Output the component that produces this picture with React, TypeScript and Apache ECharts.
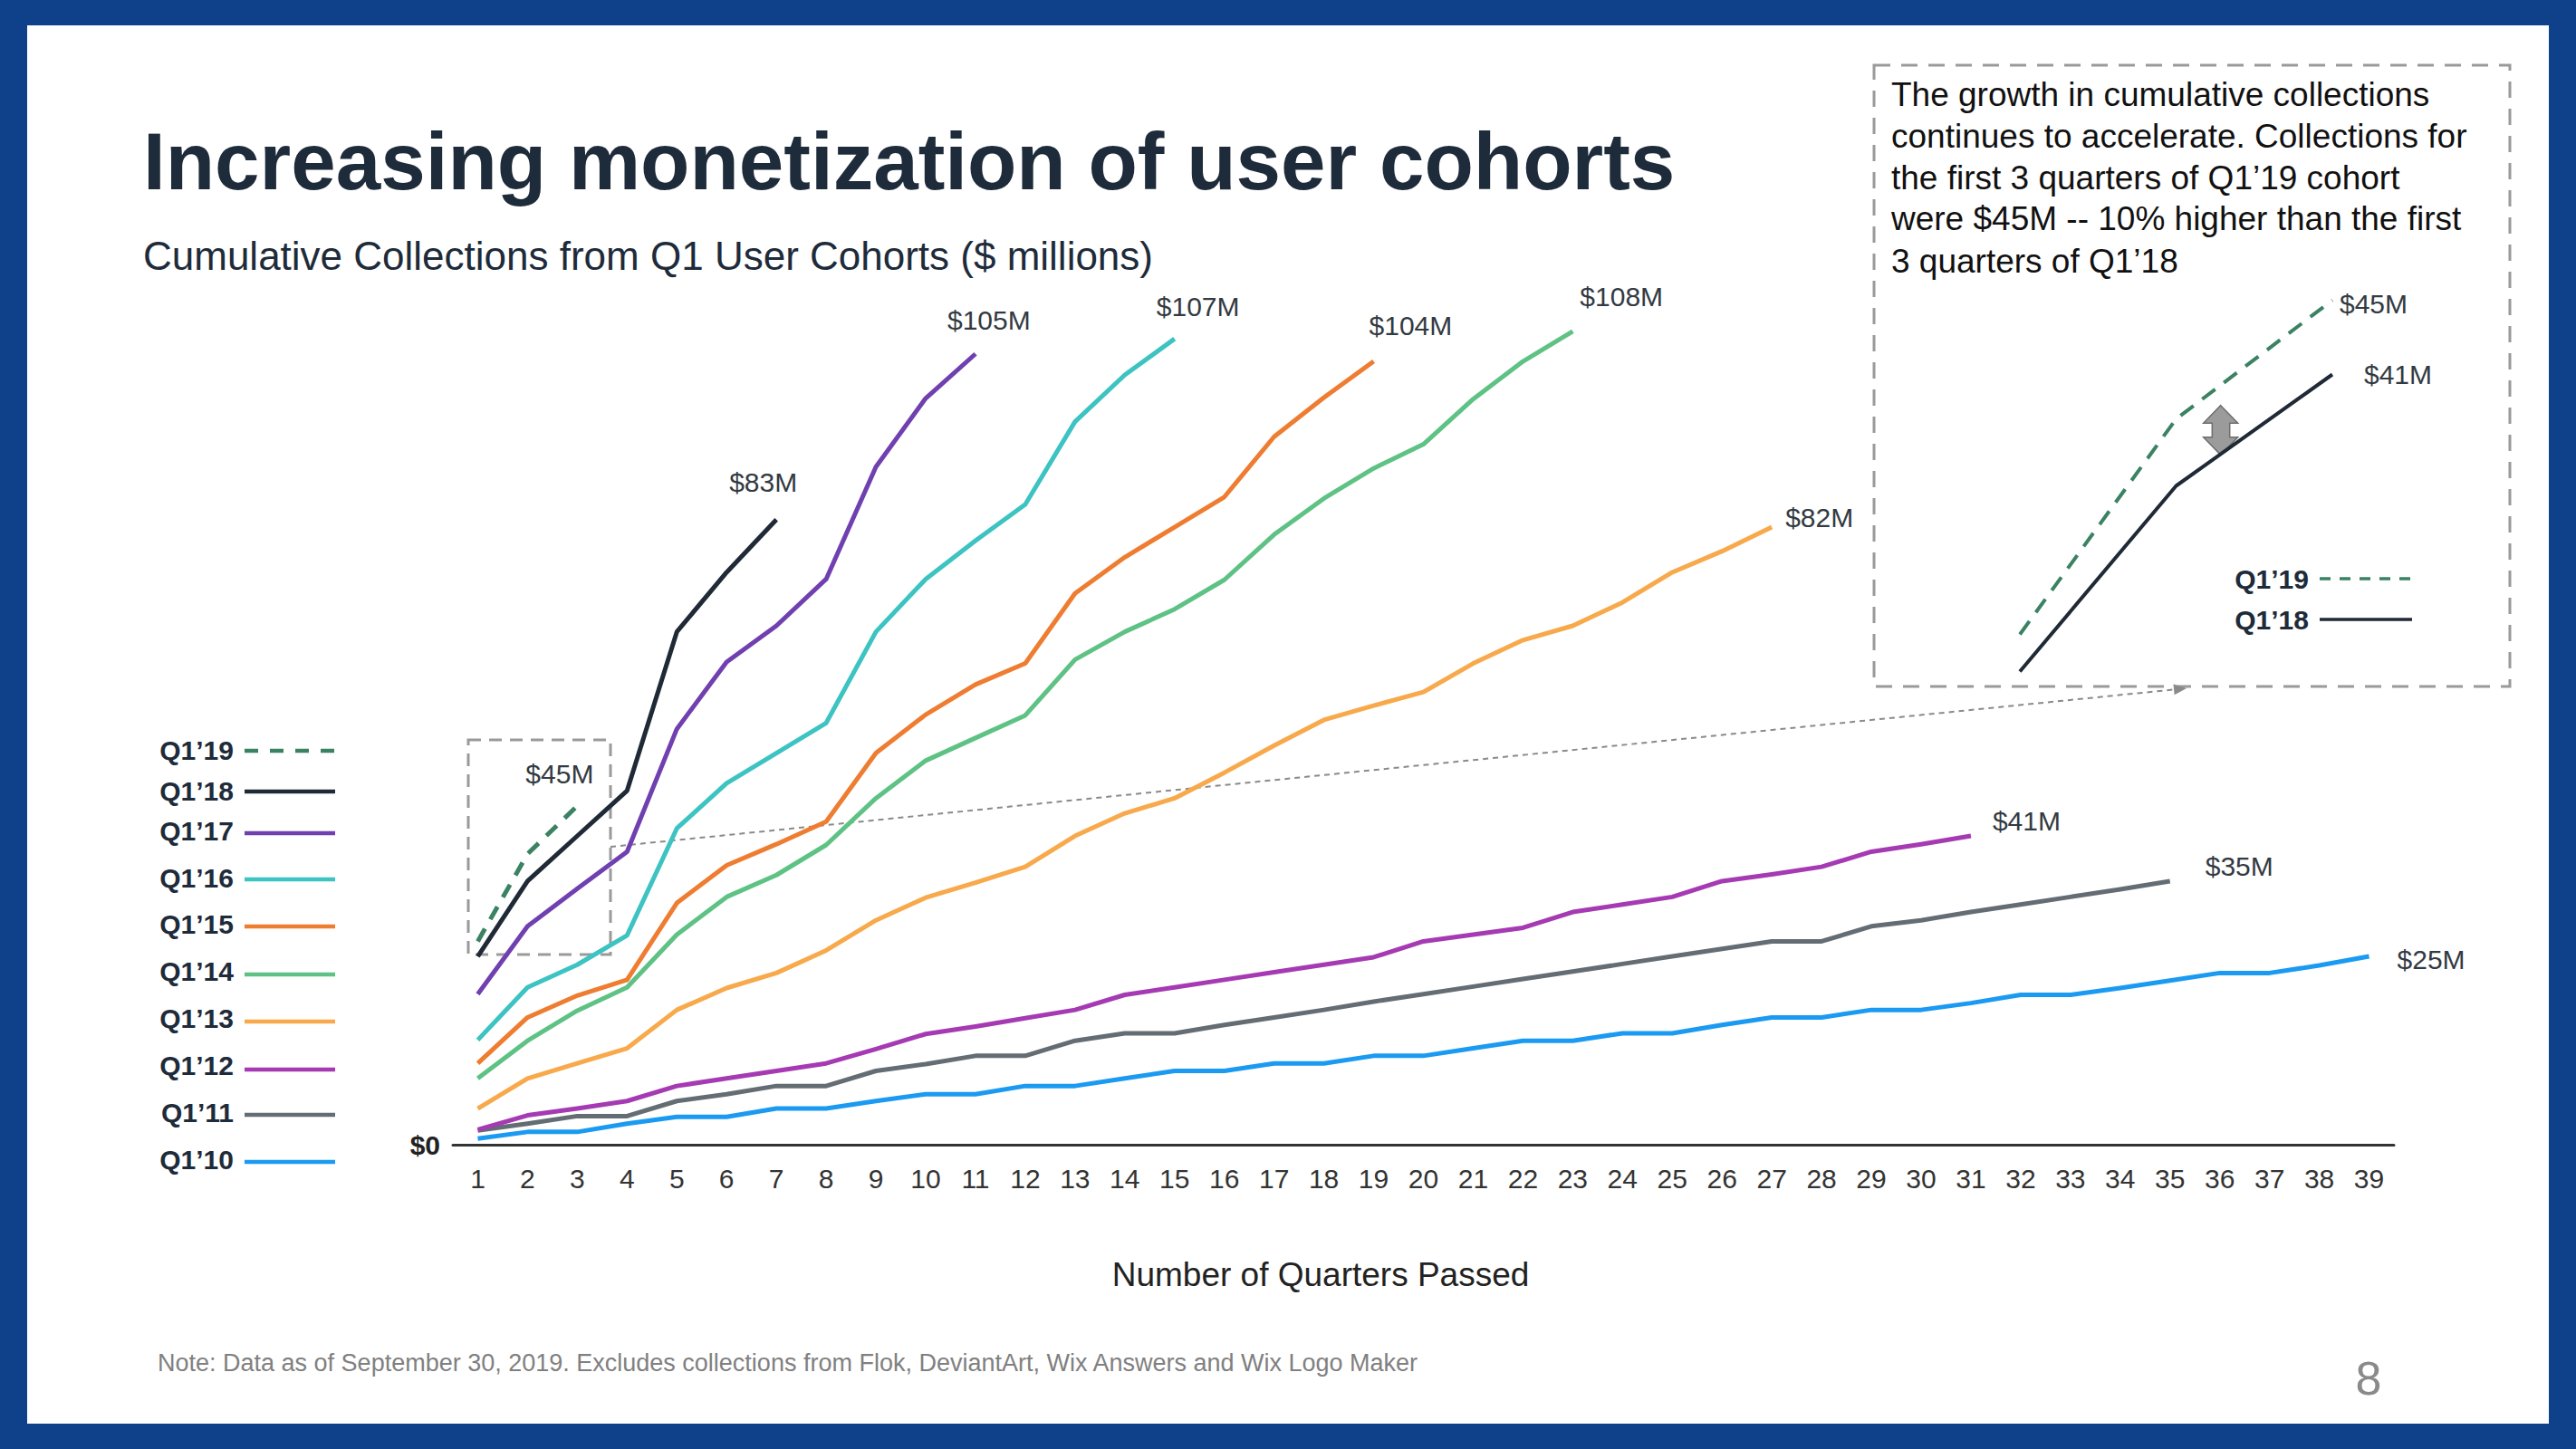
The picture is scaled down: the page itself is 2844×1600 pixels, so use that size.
import React, { useEffect, useRef } from 'react';
import * as echarts from 'echarts';

const FONT = '"Liberation Sans", Arial, Helvetica, sans-serif';

// ---------- data ----------
const quarterLabels = [
  '1', '2', '3', '4', '5', '6', '7', '8', '9', '10', '11', '12', '13',
  '14', '15', '16', '17', '18', '19', '20', '21', '22', '23', '24', '25', '26',
  '27', '28', '29', '30', '31', '32', '33', '34', '35', '36', '37', '38', '39',
];

const cohortNames = ['Q1’19', 'Q1’18', 'Q1’17', 'Q1’16', 'Q1’15', 'Q1’14', 'Q1’13', 'Q1’12', 'Q1’11', 'Q1’10'];

const q119 = [27, 38.6, 45];
const q118 = [25, 35, 41, 47, 68.1, 76, 83];
const q117 = [20, 29, 34, 38.9, 55.2, 64.1, 68.9, 75.1, 90, 99.1, 105];
const q116 = [13.9, 20.9, 23.9, 27.8, 42, 48, 52, 56, 68.1, 75.1, 80.2, 85, 96, 102.2, 107];
const q115 = [10.8, 16.9, 19.8, 21.9, 32.1, 37.1, 39.9, 42.9, 52, 57.1, 61.1, 63.9, 73.2, 78, 82, 86, 94, 99.2, 104];
const q114 = [8.8, 13.8, 17.8, 20.9, 27.9, 32.9, 35.8, 39.8, 46, 51, 54, 57, 64.4, 68.1, 71.1, 75, 81, 85.8, 89.8, 93, 99, 104, 108];
const q113 = [4.8, 8.8, 10.8, 12.8, 17.9, 20.8, 22.8, 25.8, 29.8, 32.8, 34.8, 36.9, 41, 44, 46, 49.4, 53, 56.4, 58.3, 60.1, 63.9, 67, 68.9, 72, 76, 78.8, 82];
const q112 = [2, 3.9, 4.8, 5.8, 7.8, 8.8, 9.8, 10.8, 12.7, 14.7, 15.7, 16.8, 17.9, 19.9, 20.9, 21.9, 22.9, 23.9, 24.9, 27, 27.9, 28.8, 30.9, 31.9, 32.9, 35, 35.9, 36.9, 38.9, 39.9, 41];
const q111 = [1.9, 2.8, 3.8, 3.8, 5.8, 6.7, 7.8, 7.8, 9.8, 10.7, 11.8, 11.8, 13.8, 14.8, 14.8, 15.9, 16.9, 17.9, 19, 20, 21, 22, 23, 24, 25, 26, 27, 27, 29, 29.8, 30.9, 31.9, 32.9, 33.9, 35];
const q110 = [0.8, 1.7, 1.7, 2.8, 3.7, 3.7, 4.8, 4.8, 5.8, 6.7, 6.7, 7.8, 7.8, 8.8, 9.8, 9.8, 10.8, 10.8, 11.8, 11.8, 12.8, 13.8, 13.8, 14.8, 14.8, 15.9, 16.9, 16.9, 17.9, 17.9, 18.8, 19.9, 19.9, 20.8, 21.8, 22.8, 22.8, 23.8, 25];

const cohortValues = [q119, q118, q117, q116, q115, q114, q113, q112, q111, q110];

const insetLabels = ['1', '2', '3'];
const insetNames = ['Q1’19', 'Q1’18'];

const insetText = [
  'The growth in cumulative collections',
  'continues to accelerate. Collections for',
  'the first 3 quarters of Q1’19 cohort',
  'were $45M -- 10% higher than the first',
  '3 quarters of Q1’18',
];

// ---------- styles ----------
const cohortColors = ['#3B8263', '#1F2A36', '#7040B0', '#3CC3C2', '#EE7D31', '#5EC284', '#F7A94B', '#A53AB3', '#646C74', '#1B9AF2'];
const legendTextY = [828, 873, 917, 969, 1020, 1072, 1124, 1176, 1228, 1280];
const legendLineY = [829, 874, 920, 971, 1023, 1076, 1128, 1181, 1231, 1283];
// label offset (left edge, vertical middle) relative to each series' last point
const endLabelOffsets = [[-57, -35], [-52, -41], [-31, -37], [-20, -36], [-5, -40], [8, -38], [15, -11], [24, -17], [39, -16], [31, 3]];
const insetLabelOffsets = [[8, 4], [35, 0]];
const DASH = [16, 12];

export default function App() {
  const ref = useRef<HTMLDivElement>(null);

  useEffect(() => {
    const chart = echarts.init(ref.current!, null, { renderer: 'svg' });

    // main series: draw oldest first so newer cohorts sit on top
    const order = cohortNames.map((_, k) => cohortNames.length - 1 - k);
    const mainSeries = order.map((k) => ({
      name: cohortNames[k],
      type: 'line',
      xAxisIndex: 0,
      yAxisIndex: 0,
      data: cohortValues[k],
      symbol: 'none',
      silent: true,
      lineStyle: { color: cohortColors[k], width: 5, type: k === 0 ? DASH : 'solid', join: 'round' },
    }));
    const insetSeries = [0, 1].map((k) => ({
      name: insetNames[k] + ' inset',
      type: 'line',
      xAxisIndex: 1,
      yAxisIndex: 1,
      data: cohortValues[k].slice(0, 3),
      symbol: 'none',
      silent: true,
      lineStyle: { color: cohortColors[k], width: 4, type: k === 0 ? [18, 12] : 'solid', join: 'round' },
    }));

    chart.setOption({
      animation: false,
      grid: [
        { left: 500, top: 266, width: 2143, height: 998 },
        { left: 2230, top: 229, width: 345, height: 615 },
      ],
      xAxis: [
        {
          type: 'category', gridIndex: 0, data: quarterLabels, boundaryGap: true,
          axisLine: { show: true, lineStyle: { color: '#333', width: 3 } },
          axisTick: { show: false },
          axisLabel: { interval: 0, fontSize: 30, color: '#333', fontFamily: FONT, margin: 22 },
          splitLine: { show: false },
        },
        { type: 'category', gridIndex: 1, data: insetLabels, boundaryGap: false, show: false },
      ],
      yAxis: [
        {
          type: 'value', gridIndex: 0, min: 0, max: 120, interval: 120,
          axisLine: { show: false }, axisTick: { show: false }, splitLine: { show: false },
          axisLabel: {
            formatter: (v: number) => (v === 0 ? '$0' : ''),
            fontSize: 30, fontWeight: 'bold', color: '#222', fontFamily: FONT, margin: 14,
          },
        },
        { type: 'value', gridIndex: 1, min: 20, max: 50, show: false, splitLine: { show: false } },
      ],
      series: [...mainSeries, ...insetSeries],
    });

    const txt = (text: string, x: number, y: number, size: number, fill: string, align = 'left', weight = 'normal') => ({
      type: 'text', x, y, silent: true,
      style: {
        text, fill, fontSize: size, fontFamily: FONT, fontWeight: weight,
        align, verticalAlign: 'middle', textAlign: align, textVerticalAlign: 'middle',
      },
    });

    const g: any[] = [];
    // titles
    g.push(txt('Increasing monetization of user cohorts', 158, 178, 89, '#1E2B3A', 'left', 'bold'));
    g.push(txt('Cumulative Collections from Q1 User Cohorts ($ millions)', 158, 282, 44, '#1E2B3A'));

    // legend
    cohortNames.forEach((name, k) => {
      g.push(txt(name, 258, legendTextY[k], 30, '#1E2B3A', 'right', 'bold'));
      g.push({
        type: 'line', silent: true,
        shape: { x1: 270, y1: legendLineY[k], x2: 370, y2: legendLineY[k] },
        style: { stroke: cohortColors[k], lineWidth: 4.5, lineDash: k === 0 ? [15, 13] : null },
      });
    });

    // end labels
    cohortNames.forEach((_, k) => {
      const vals = cohortValues[k];
      const last = vals[vals.length - 1];
      const sIdx = order.indexOf(k);
      const p = chart.convertToPixel({ seriesIndex: sIdx }, [vals.length - 1, last]) as number[];
      const [dx, dy] = endLabelOffsets[k];
      g.push(txt('$' + Math.round(last) + 'M', p[0] + dx, p[1] + dy, 30, '#333A42'));
    });

    // inset end labels
    [0, 1].forEach((k) => {
      const vals = cohortValues[k].slice(0, 3);
      const last = vals[2];
      const p = chart.convertToPixel({ seriesIndex: mainSeries.length + k }, [2, last]) as number[];
      const [dx, dy] = insetLabelOffsets[k];
      g.push(txt('$' + Math.round(last) + 'M', p[0] + dx, p[1] + dy, 30, '#333A42'));
    });

    // zoom box around Q1'19 in main chart
    g.push({
      type: 'rect', silent: true,
      shape: { x: 517, y: 817, width: 157, height: 237 },
      style: { fill: 'none', stroke: '#9A9A9A', lineWidth: 3, lineDash: [14, 9] },
    });
    // inset box
    g.push({
      type: 'rect', silent: true,
      shape: { x: 2069, y: 72, width: 702, height: 686 },
      style: { fill: 'none', stroke: '#9A9A9A', lineWidth: 3, lineDash: [18, 12] },
    });
    // connector with arrow
    const sx = 674, sy = 935, ex = 2414, ey = 760;
    const len = Math.hypot(ex - sx, ey - sy);
    const ux = (ex - sx) / len, uy = (ey - sy) / len;
    const bx = ex - ux * 14, by = ey - uy * 14;
    g.push({
      type: 'line', silent: true,
      shape: { x1: sx, y1: sy, x2: bx, y2: by },
      style: { stroke: '#8A8A8A', lineWidth: 2, lineDash: [6, 5] },
    });
    g.push({
      type: 'polygon', silent: true,
      shape: { points: [[ex, ey], [bx - uy * 6, by + ux * 6], [bx + uy * 6, by - ux * 6]] },
      style: { fill: '#8A8A8A' },
    });

    // inset text
    const insetY = [104, 150, 196, 241, 288];
    insetText.forEach((t, i) => g.push(txt(t, 2088, insetY[i], 37, '#111')));

    // double arrow
    g.push({
      type: 'polygon', silent: true,
      shape: {
        points: [
          [2451.7, 447.7], [2470.7, 467.3], [2461.7, 467.3], [2461.7, 482.7], [2470.7, 482.7],
          [2451.7, 502.3], [2432.7, 482.7], [2442.3, 482.7], [2442.3, 467.3], [2432.7, 467.3],
        ],
      },
      style: { fill: '#9B9B9B', stroke: '#6E6E6E', lineWidth: 1.5 },
    });

    // inset legend
    const insetLegY = [639, 684];
    [0, 1].forEach((k) => {
      g.push(txt(insetNames[k], 2549, insetLegY[k], 30, '#1E2B3A', 'right', 'bold'));
      g.push({
        type: 'line', silent: true,
        shape: { x1: 2561, y1: insetLegY[k], x2: 2663, y2: insetLegY[k] },
        style: { stroke: cohortColors[k], lineWidth: 3.5, lineDash: k === 0 ? [12, 10] : null },
      });
    });

    // axis title, footnote, page number
    g.push(txt('Number of Quarters Passed', 1458, 1407, 37, '#222', 'center'));
    g.push(txt('Note: Data as of September 30, 2019. Excludes collections from Flok, DeviantArt, Wix Answers and Wix Logo Maker', 174, 1505, 27, '#808080'));
    g.push(txt('8', 2615, 1522, 52, '#8A8A8A', 'center'));

    chart.setOption({ graphic: g });

    return () => chart.dispose();
  }, []);

  return (
    <div style={{ position: 'fixed', left: 0, top: 0, width: 2844, height: 1600, background: '#0F418A' }}>
      <div style={{ position: 'absolute', left: 30, top: 28, width: 2784, height: 1544, background: '#ffffff' }} />
      <div ref={ref} style={{ position: 'absolute', left: 0, top: 0, width: 2844, height: 1600 }} />
    </div>
  );
}
